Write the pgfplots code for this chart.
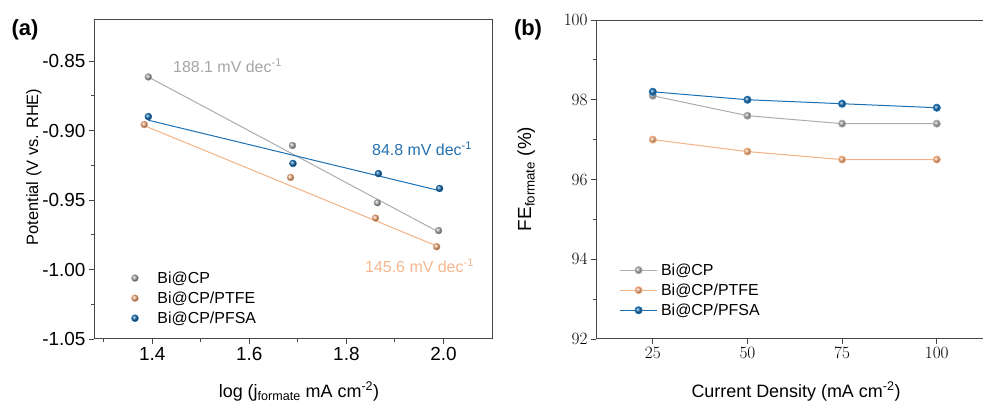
\documentclass[border=0pt]{standalone}
\usepackage{pgfplots}
\pgfplotsset{compat=1.18}
\usepackage{fontspec}
\setmainfont{Liberation Sans}
\definecolor{mygray}{RGB}{172,172,172}
\definecolor{myorange}{RGB}{244,177,132}
\definecolor{myblue}{RGB}{28,112,178}
\definecolor{graytxt}{RGB}{165,165,165}
\definecolor{orangetxt}{RGB}{245,183,142}
\definecolor{bluetxt}{RGB}{35,112,175}
\definecolor{axcol}{RGB}{70,70,70}
\pgfplotsset{
  myaxis/.style={
    scale only axis,
    axis line style={axcol, line width=1bp},
    every tick/.style={axcol, line width=0.9bp},
    tick align=outside,
    tick pos=left,
    major tick length=5bp,
    minor tick length=3bp,
    ticklabel style={font=\fontsize{19}{21}\selectfont, text=black},
    legend cell align=left,
    legend style={draw=none, fill=none, font=\fontsize{16}{18}\selectfont,
      inner sep=0pt, row sep=5bp, nodes={inner sep=1bp}},
    legend image code/.code={\path[draw=none,fill=none] (0bp,-1bp) rectangle (40bp,1bp);\draw[mark repeat=2,mark phase=2,##1] plot coordinates {(0bp,0bp) (18.5bp,0bp) (37bp,0bp)};},
  },
}
\begin{document}
\begin{tikzpicture}
\path[use as bounding box] (0,0) rectangle (983bp,405bp);
\begin{axis}[myaxis, at={(94bp,66bp)}, anchor=south west, width=398bp, height=319bp,
  xmin=1.28, xmax=2.1, ymin=-1.05, ymax=-0.8205,
  xtick={1.4,1.6,1.8,2.0}, xticklabels={1.4,1.6,1.8,2.0},
  minor xtick={1.3,1.5,1.7,1.9},
  ytick={-1.05,-1.0,-0.95,-0.9,-0.85}, yticklabels={-1.05,-1.00,-0.95,-0.90,-0.85},
  minor ytick={-1.025,-0.975,-0.925,-0.875},
  legend style={at={(0.056,0.215)}, anchor=north west},
]
\addplot[mygray, line width=1bp, forget plot] coordinates {(1.392,-0.8615) (1.990,-0.973)};
\addplot[myorange, line width=1bp, forget plot] coordinates {(1.3835,-0.8965) (1.986,-0.983)};
\addplot[myblue, line width=1bp, forget plot] coordinates {(1.392,-0.8926) (1.992,-0.9433)};
\addplot[mygray, only marks, mark=ball, mark size=3.5bp, mark options={draw=none, ball color=mygray}]
  coordinates {(1.392,-0.8615) (1.689,-0.9108) (1.864,-0.952) (1.990,-0.972)};
\addlegendentry{Bi@CP}
\addplot[myorange, only marks, mark=ball, mark size=3.5bp, mark options={draw=none, ball color=myorange}]
  coordinates {(1.3835,-0.8957) (1.685,-0.9338) (1.860,-0.963) (1.986,-0.9836)};
\addlegendentry{Bi@CP/PTFE}
\addplot[myblue, only marks, mark=ball, mark size=3.5bp, mark options={draw=none, ball color=myblue}]
  coordinates {(1.392,-0.890) (1.690,-0.9237) (1.866,-0.931) (1.992,-0.9417)};
\addlegendentry{Bi@CP/PFSA}
\end{axis}
\begin{axis}[myaxis, at={(596bp,66bp)}, anchor=south west, width=390bp, height=319bp,
  xmin=10, xmax=113, ymin=92, ymax=100,
  xtick={25,50,75,100}, ytick={92,94,96,98,100},
  minor ytick={93,95,97,99},
  legend style={at={(0.06,0.24)}, anchor=north west},
]
\addplot[mygray, line width=1bp, mark=ball, mark size=3.5bp, mark options={draw=none, ball color=mygray}]
  coordinates {(25,98.1) (50,97.6) (75,97.4) (100,97.4)};
\addlegendentry{Bi@CP}
\addplot[myorange, line width=1bp, mark=ball, mark size=3.5bp, mark options={draw=none, ball color=myorange}]
  coordinates {(25,97.0) (50,96.7) (75,96.5) (100,96.5)};
\addlegendentry{Bi@CP/PTFE}
\addplot[myblue, line width=1bp, mark=ball, mark size=3.5bp, mark options={draw=none, ball color=myblue}]
  coordinates {(25,98.2) (50,98.0) (75,97.9) (100,97.8)};
\addlegendentry{Bi@CP/PFSA}
\end{axis}
% annotations
\node[anchor=west, text=graytxt, font=\fontsize{16}{18}\selectfont, inner sep=0pt] at (173bp,339bp) {188.1 mV dec\textsuperscript{-1}};
\node[anchor=west, text=bluetxt, font=\fontsize{16}{18}\selectfont, inner sep=0pt] at (372bp,256bp) {84.8 mV dec\textsuperscript{-1}};
\node[anchor=west, text=orangetxt, font=\fontsize{16}{18}\selectfont, inner sep=0pt] at (365bp,139bp) {145.6 mV dec\textsuperscript{-1}};
% panel labels
\node[font=\bfseries\fontsize{22}{24}\selectfont, inner sep=0pt] at (25bp,375bp) {(a)};
\node[font=\bfseries\fontsize{22}{24}\selectfont, inner sep=0pt] at (528bp,375bp) {(b)};
% axis labels
\node[anchor=base, font=\fontsize{18}{20}\selectfont, inner sep=0pt] at (299bp,8bp) {log (j\textsubscript{formate} mA cm\textsuperscript{-2})};
\node[anchor=base, font=\fontsize{18}{20}\selectfont, inner sep=0pt] at (796bp,8bp) {Current Density (mA cm\textsuperscript{-2})};
\node[anchor=base, rotate=90, font=\fontsize{16.5}{18}\selectfont, inner sep=0pt] at (38bp,238bp) {Potential (V vs. RHE)};
\node[anchor=base, rotate=90, font=\fontsize{19}{21}\selectfont, inner sep=0pt] at (531bp,226bp) {FE\textsubscript{formate} (\%)};
\end{tikzpicture}
\end{document}
